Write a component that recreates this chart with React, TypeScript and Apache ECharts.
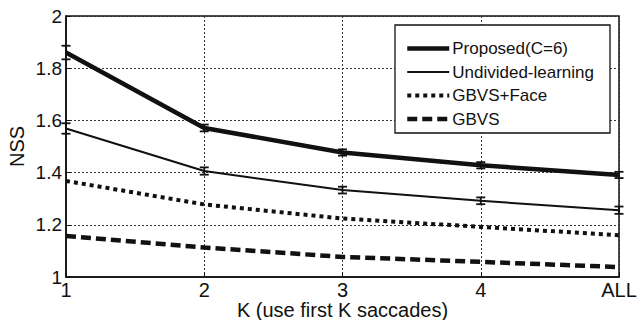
import React, { useEffect, useRef } from "react";
import * as echarts from "echarts";

const categories = ["1", "2", "3", "4", "ALL"];
const proposed = [1.86, 1.571, 1.477, 1.428, 1.391];
const undivided = [1.569, 1.406, 1.333, 1.292, 1.256];
const gbvsFace = [1.368, 1.278, 1.224, 1.192, 1.16];
const gbvs = [1.157, 1.113, 1.077, 1.058, 1.038];
const proposedErr = [0.026, 0.013, 0.012, 0.012, 0.012];
const undividedErr = [0.02, 0.014, 0.013, 0.013, 0.014];
const yTicks = [1, 1.2, 1.4, 1.6, 1.8, 2];

const FONT = "'Liberation Sans', Arial, sans-serif";

const styles: Record<string, any> = {
  "Proposed(C=6)": { color: "#111", width: 4.5 },
  "Undivided-learning": { color: "#111", width: 2 },
  "GBVS+Face": { color: "#111", width: 4, type: [4, 4] },
  GBVS: { color: "#111", width: 4.5, type: [10, 5] },
};

function errSeries(name: string, vals: number[], errs: number[]) {
  return {
    type: "custom",
    name,
    z: 5,
    data: vals.map((v, i) => [i, v - errs[i], v + errs[i]]),
    renderItem: (params: any, api: any) => {
      const lo = api.coord([api.value(0), api.value(1)]);
      const hi = api.coord([api.value(0), api.value(2)]);
      const w = 4.5;
      const style = { stroke: "#111", lineWidth: 1.8, fill: "none" };
      return {
        type: "group",
        children: [
          { type: "line", shape: { x1: lo[0], y1: lo[1], x2: hi[0], y2: hi[1] }, style },
          { type: "line", shape: { x1: lo[0] - w, y1: lo[1], x2: lo[0] + w, y2: lo[1] }, style },
          { type: "line", shape: { x1: hi[0] - w, y1: hi[1], x2: hi[0] + w, y2: hi[1] }, style },
        ],
      };
    },
  };
}

export default function App() {
  const ref = useRef<HTMLDivElement>(null);
  useEffect(() => {
    const chart = echarts.init(ref.current!, null, { renderer: "svg" });
    const lineBase = { type: "line", symbol: "none", smooth: false, z: 3 };
    const names = Object.keys(styles);
    chart.setOption({
      animation: false,
      backgroundColor: "#fff",
      textStyle: { fontFamily: FONT },
      grid: {
        left: 66,
        right: 22,
        top: 16,
        bottom: 43,
        show: true,
        borderColor: "#111",
        borderWidth: 1.5,
        outerBoundsMode: "none",
        containLabel: false,
      },
      legend: {
        orient: "vertical",
        left: 400,
        top: 35,
        z: 20,
        itemWidth: 42,
        itemHeight: 14,
        itemGap: 6.5,
        itemStyle: { opacity: 0 },
        data: names.map((n) => ({ name: n, lineStyle: { ...styles[n] } })),
        textStyle: { fontSize: 17, color: "#111", fontFamily: FONT, padding: [0, 0, 0, -2] },
      },
      graphic: [
        {
          type: "rect",
          shape: { x: 395, y: 25, width: 215, height: 108 },
          style: { fill: "#fff", stroke: "#111", lineWidth: 1.3 },
          z: 4,
        },
      ],
      xAxis: {
        type: "category",
        data: categories,
        boundaryGap: false,
        name: "K (use first K saccades)",
        nameLocation: "middle",
        nameGap: 23,
        nameMoveOverlap: false,
        nameTextStyle: { fontSize: 20, color: "#111", fontFamily: FONT },
        axisLine: { lineStyle: { color: "#111", width: 1.5 } },
        axisTick: { inside: true, length: 5, lineStyle: { color: "#111" } },
        axisLabel: { fontSize: 20, color: "#111", margin: 3, fontFamily: FONT },
        splitLine: { show: true, lineStyle: { type: [2, 2], color: "#333", width: 1 } },
      },
      yAxis: {
        type: "value",
        min: 1,
        max: 2,
        interval: 0.2,
        name: "NSS",
        nameLocation: "middle",
        nameGap: 39,
        nameMoveOverlap: false,
        nameTextStyle: { fontSize: 20, color: "#111", fontFamily: FONT },
        axisLine: { show: true, lineStyle: { color: "#111", width: 1.5 } },
        axisTick: { show: true, inside: true, length: 5, lineStyle: { color: "#111" } },
        axisLabel: {
          fontSize: 19,
          color: "#111",
          margin: 4,
          fontFamily: FONT,
          formatter: (v: number) => {
            const t = yTicks.find((x) => Math.abs(x - v) < 1e-6);
            return t === undefined ? "" : String(t);
          },
        },
        splitLine: { show: true, lineStyle: { type: [2, 2], color: "#333", width: 1 } },
      },
      series: [
        { ...lineBase, name: names[0], data: proposed, lineStyle: styles[names[0]], itemStyle: { color: "#111" } },
        { ...lineBase, name: names[1], data: undivided, lineStyle: styles[names[1]], itemStyle: { color: "#111" } },
        { ...lineBase, name: names[2], data: gbvsFace, lineStyle: styles[names[2]], itemStyle: { color: "#111" } },
        { ...lineBase, name: names[3], data: gbvs, lineStyle: styles[names[3]], itemStyle: { color: "#111" } },
        errSeries("errP", proposed, proposedErr),
        errSeries("errU", undivided, undividedErr),
      ],
    });
    return () => chart.dispose();
  }, []);
  return <div ref={ref} style={{ width: 641, height: 320, position: "absolute", left: 0, top: 0 }} />;
}
